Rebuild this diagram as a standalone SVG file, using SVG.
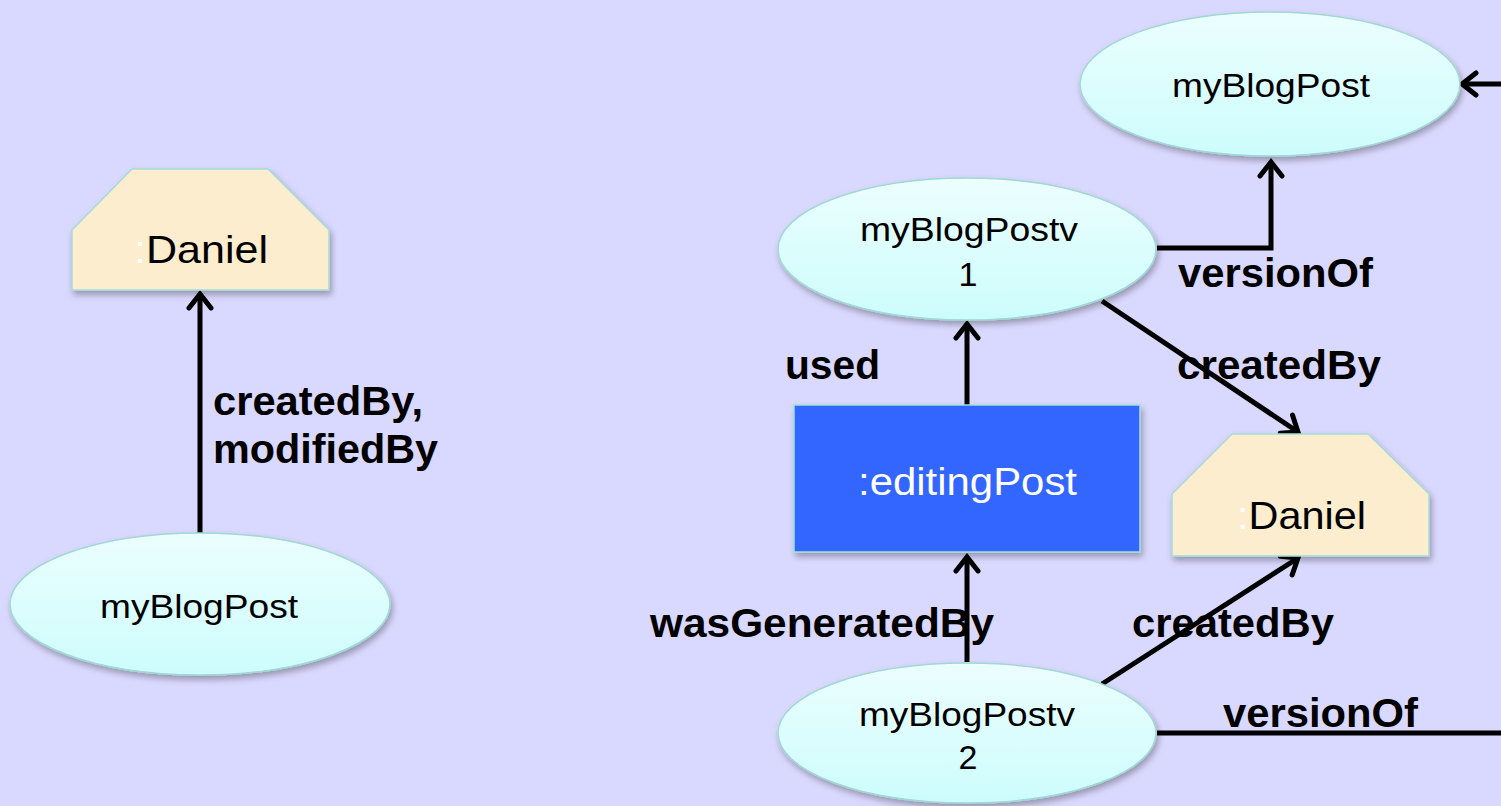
<svg xmlns="http://www.w3.org/2000/svg" width="1501" height="806" viewBox="0 0 1501 806">
<defs>
<style>
.ell{fill:url(#eg);stroke:#9fd9d2;stroke-width:1.5;filter:url(#sh)}
.per{fill:#fcedce;stroke:#a6dcd6;stroke-width:1.5;filter:url(#sh)}
.act{fill:#3366ff;stroke:#a0e2d6;stroke-width:1.5;filter:url(#sh)}
.nt{font-family:"Liberation Sans",Arial,sans-serif;fill:#000}
.lb{font-family:"Liberation Sans",Arial,sans-serif;font-weight:bold;font-size:40px;fill:#000}
.cn{fill:none;stroke:#000;stroke-width:5}
.ar{marker-end:url(#chev)}
</style>
<linearGradient id="eg" x1="0" y1="0" x2="0" y2="1">
<stop offset="0" stop-color="#ecfefe"/>
<stop offset="1" stop-color="#cdfcfc"/>
</linearGradient>
<filter id="sh" x="-10%" y="-10%" width="125%" height="130%">
<feDropShadow dx="2" dy="4" stdDeviation="3" flood-color="#000" flood-opacity="0.3"/>
</filter>
<marker id="chev" markerUnits="userSpaceOnUse" viewBox="-18 -14 22 28" refX="0" refY="0" markerWidth="22" markerHeight="28" orient="auto">
<path d="M-14,-11 L0,0 L-14,11" fill="none" stroke="#000" stroke-width="5" stroke-linecap="round" stroke-linejoin="miter"/>
</marker>
</defs>
<rect x="0" y="0" width="1501" height="806" fill="#d9d8fe"/>

<g id="connectors">
<line class="cn ar" x1="200" y1="533" x2="200" y2="294"/>
<line class="cn ar" x1="967" y1="405" x2="967" y2="324"/>
<line class="cn ar" x1="967" y1="662" x2="967" y2="557"/>
<path class="cn ar" d="M1157,248 H1271 V162"/>
<line class="cn ar" x1="1501" y1="84" x2="1462" y2="84"/>
<line class="cn ar" x1="1102" y1="301" x2="1298" y2="432"/>
<line class="cn ar" x1="1102" y1="684" x2="1298" y2="558"/>
<line class="cn" x1="1157" y1="733" x2="1501" y2="733"/>
<text class="lb" x="213" y="415" textLength="210" lengthAdjust="spacingAndGlyphs">createdBy,</text>
<text class="lb" x="213" y="463" textLength="225" lengthAdjust="spacingAndGlyphs">modifiedBy</text>
<text class="lb" x="1178" y="287" textLength="195" lengthAdjust="spacingAndGlyphs">versionOf</text>
<text class="lb" x="785" y="379" textLength="95" lengthAdjust="spacingAndGlyphs">used</text>
<text class="lb" x="1177" y="379" textLength="204" lengthAdjust="spacingAndGlyphs">createdBy</text>
<text class="lb" x="650" y="637" textLength="344" lengthAdjust="spacingAndGlyphs">wasGeneratedBy</text>
<text class="lb" x="1132" y="637" textLength="202" lengthAdjust="spacingAndGlyphs">createdBy</text>
<text class="lb" x="1223" y="727" textLength="195" lengthAdjust="spacingAndGlyphs">versionOf</text>
</g>

<g id="daniel-left">
<polygon class="per" points="132,169 268,169 329,230 329,290 72,290 72,230"/>
<text class="nt" x="134" y="263" font-size="39" textLength="134" lengthAdjust="spacingAndGlyphs"><tspan fill="#ffffff">:</tspan>Daniel</text>
</g>

<g id="myBlogPost-left">
<ellipse class="ell" cx="200" cy="604" rx="190" ry="71"/>
<text class="nt" x="100" y="618" font-size="34" textLength="198" lengthAdjust="spacingAndGlyphs">myBlogPost</text>
</g>

<g id="myBlogPost-right">
<ellipse class="ell" cx="1270" cy="84" rx="190" ry="72"/>
<text class="nt" x="1172" y="97" font-size="34" textLength="198" lengthAdjust="spacingAndGlyphs">myBlogPost</text>
</g>

<g id="myBlogPostv1">
<ellipse class="ell" cx="967" cy="249" rx="189" ry="71"/>
<text class="nt" x="860" y="241" font-size="34" textLength="218" lengthAdjust="spacingAndGlyphs">myBlogPostv</text>
<text class="nt" x="968" y="286" font-size="34" text-anchor="middle">1</text>
</g>

<g id="editingPost">
<rect class="act" x="794" y="405" width="346" height="147"/>
<text class="nt" x="858" y="495" font-size="38" style="fill:#ffffff" textLength="219" lengthAdjust="spacingAndGlyphs">:editingPost</text>
</g>

<g id="daniel-right">
<polygon class="per" points="1232,434 1368,434 1429,494 1429,556 1172,556 1172,494"/>
<text class="nt" x="1237" y="529" font-size="39" textLength="129" lengthAdjust="spacingAndGlyphs"><tspan fill="#ffffff">:</tspan>Daniel</text>
</g>

<g id="myBlogPostv2">
<ellipse class="ell" cx="967" cy="733" rx="189" ry="70"/>
<text class="nt" x="859" y="726" font-size="34" textLength="216" lengthAdjust="spacingAndGlyphs">myBlogPostv</text>
<text class="nt" x="968" y="769" font-size="34" text-anchor="middle">2</text>
</g>
</svg>
